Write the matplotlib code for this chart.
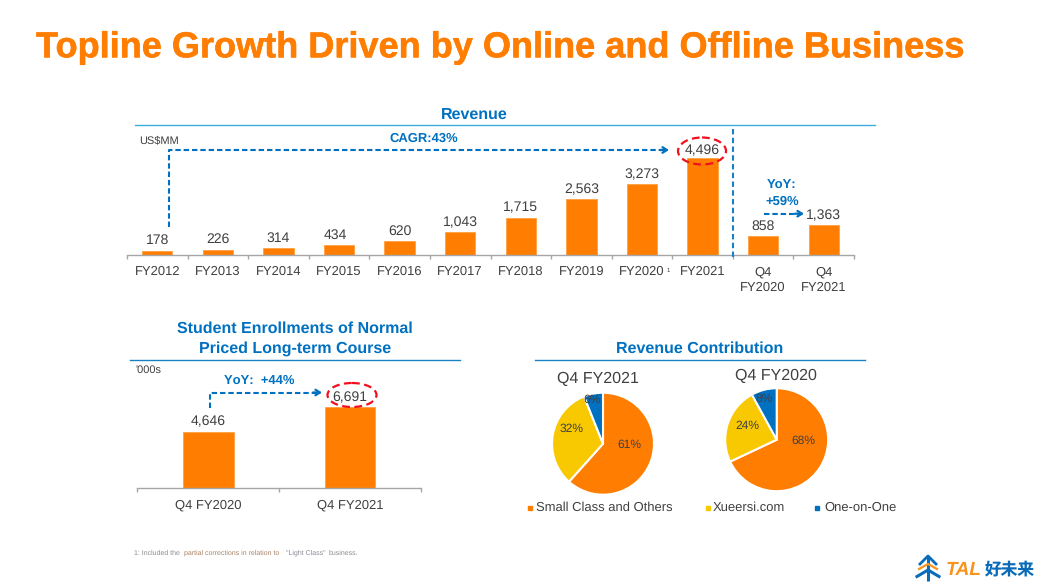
import matplotlib
matplotlib.use('Agg')
import matplotlib.pyplot as plt
import matplotlib.patheffects as pe
from matplotlib.patches import Ellipse

plt.rcParams['font.family'] = ['Liberation Sans', 'Noto Sans CJK SC', 'DejaVu Sans']
plt.rcParams['text.hinting'] = 'no_hinting'
plt.rcParams['text.hinting_factor'] = 1
plt.rcParams['text.kerning_factor'] = 0

W, H = 1053, 588

ORANGE = '#FF7D00'
BLUE = '#0070C0'
YELLOW = '#F8C800'
GREY = '#404040'
AXIS = '#A6A6A6'

# data
rev_labels = ['FY2012', 'FY2013', 'FY2014', 'FY2015', 'FY2016', 'FY2017', 'FY2018',
              'FY2019', 'FY2020', 'FY2021', 'Q4\nFY2020', 'Q4\nFY2021']
rev_values = [178, 226, 314, 434, 620, 1043, 1715, 2563, 3273, 4496, 858, 1363]

enr_labels = ['Q4 FY2020', 'Q4 FY2021']
enr_values = [4646, 6691]

pie_names = ['Small Class and Others', 'Xueersi.com', 'One-on-One']
pie_fy2021 = [61, 32, 6]
pie_fy2020 = [68, 24, 8]


def ax_px(x0, y0, x1, y1):
    # axes from pixel box (y measured from the top)
    return fig.add_axes([x0 / W, 1 - y1 / H, (x1 - x0) / W, (y1 - y0) / H])


def bar_panel(ax, labels, values, width, ymax, fs):
    x = list(range(len(values)))
    ax.bar(x, values, width=width, color=ORANGE, edgecolor='#FFA040', linewidth=0.6)
    ax.set_xlim(-0.5, len(values) - 0.5)
    ax.set_ylim(0, ymax)
    ax.set_yticks([])
    for s in ['top', 'left', 'right']:
        ax.spines[s].set_visible(False)
    ax.spines['bottom'].set_color(AXIS)
    ax.spines['bottom'].set_linewidth(1.0)
    ax.set_xticks(x)
    ax.set_xticklabels(labels, fontsize=fs, color=GREY, linespacing=1.32)
    ax.tick_params(axis='x', which='major', length=0, pad=8.2)
    ax.set_xticks([i - 0.5 for i in range(len(values) + 1)], minor=True)
    ax.tick_params(axis='x', which='minor', length=3, color=AXIS, width=1.0)
    ax.patch.set_alpha(0)


def arrow_head(x0, y0, x1, y1):
    ov.annotate('', xy=(x1, y1), xytext=(x0, y0),
                arrowprops=dict(arrowstyle='->,head_length=0.32,head_width=0.2', color=BLUE,
                                lw=1.6, shrinkA=0, shrinkB=0))


def pie_panel(cx, cy, r, values):
    ax = ax_px(cx - r, cy - r, cx + r, cy + r)
    ax.pie(values, colors=[ORANGE, YELLOW, BLUE], startangle=90, counterclock=False, radius=1,
           wedgeprops=dict(edgecolor='white', linewidth=1.5))
    ax.set_xlim(-1.02, 1.02)
    ax.set_ylim(-1.02, 1.02)


fig = plt.figure(figsize=(W / 100, H / 100), dpi=100, facecolor='white')

# revenue bars
ax1 = ax_px(127, 125, 854, 254.5)
bar_panel(ax1, rev_labels, rev_values, 0.5, 6034, 9.7)
rev_shift = {3: -3}
for i, v in enumerate(rev_values):
    dy = 5.2 if i == 9 else 7.2
    ax1.annotate(f'{v:,}', (i, v), xytext=(rev_shift.get(i, 0), dy), textcoords='offset points',
                 ha='center', va='center', fontsize=9.8, color=GREY)

# enrollment bars
ax2 = ax_px(137.5, 365, 421, 488)
bar_panel(ax2, enr_labels, enr_values, 0.358, 10160, 9.7)
for i, v in enumerate(enr_values):
    ax2.annotate(f'{v:,}', (i, v), xytext=(0, 7.6 if i == 0 else 6.5), textcoords='offset points',
                 ha='center', va='center', fontsize=9.8, color=GREY)

# pies
pie_panel(603, 443.7, 52, pie_fy2021)
pie_panel(776.7, 439.7, 52.5, pie_fy2020)

# overlay in pixel coordinates for the slide furniture
ov = fig.add_axes([0, 0, 1, 1], zorder=10)
ov.set_xlim(0, W)
ov.set_ylim(H, 0)
ov.axis('off')
ov.patch.set_alpha(0)

ov.text(36, 48, 'Topline Growth Driven by Online and Offline Business', fontsize=26, fontweight='bold',
        color=ORANGE, ha='left', va='center',
        path_effects=[pe.withStroke(linewidth=0.4, foreground=ORANGE)])

for txt, x, y in [('Revenue', 474, 114.5), ('Student Enrollments of Normal', 295, 329),
                  ('Priced Long-term Course', 295, 349), ('Revenue Contribution', 700, 349)]:
    ov.text(x, y, txt, fontsize=11.4, fontweight='bold', color=BLUE, ha='center', va='center')

ov.plot([135, 875], [125, 125], color='#3DAEE0', lw=1.0)
ov.plot([130, 460], [359.5, 359.5], color='#1A80C4', lw=1.0)
ov.plot([535, 865], [359.5, 359.5], color='#1A80C4', lw=1.0)

ov.text(139.5, 140, 'US$MM', fontsize=7.6, color=GREY, ha='left', va='center')
ov.text(135, 370, "'000s", fontsize=7.6, color=GREY, ha='left', va='center')
ov.text(668, 270.5, '1', fontsize=4.5, color=GREY, ha='center', va='center')

# CAGR arrow
ov.plot([169, 169, 664], [227, 150, 150], color=BLUE, lw=1.5, ls=(0, (2.6, 1.4)))
arrow_head(660, 150, 669, 150)
ov.text(424, 138.5, 'CAGR:43%', fontsize=9.6, fontweight='bold', color=BLUE, ha='center', va='center')

# divider
ov.plot([733, 733], [129, 258], color='#1A80C4', lw=1.5, ls=(0, (2.6, 1.6)))

# quarterly yoy
ov.plot([764, 799], [213.7, 213.7], color=BLUE, lw=1.5, ls=(0, (2.6, 1.4)))
arrow_head(795, 213.7, 804, 213.7)
ov.text(782, 186, 'YoY:', fontsize=9.6, fontweight='bold', color=BLUE, ha='center', va='center')
ov.text(782, 202, '+59%', fontsize=9.6, fontweight='bold', color=BLUE, ha='center', va='center')

# enrollment yoy
ov.plot([210, 210, 317], [408, 392.5, 392.5], color=BLUE, lw=1.5, ls=(0, (2.6, 1.4)))
arrow_head(313, 392.5, 322, 392.5)
ov.text(259, 381, 'YoY:  +44%', fontsize=9.6, fontweight='bold', color=BLUE, ha='center', va='center')

# red circles
for cx, cy, w, h in [(702, 151, 48, 27), (352, 395, 49, 24)]:
    ov.add_patch(Ellipse((cx, cy), w, h, fill=False, edgecolor='#F0101E', lw=1.6, ls=(0, (3.5, 2))))

# pie titles and percent labels
ov.text(598, 379, 'Q4 FY2021', fontsize=11.3, color=GREY, ha='center', va='center')
ov.text(776, 376, 'Q4 FY2020', fontsize=11.3, color=GREY, ha='center', va='center')
for v, x, y in zip(pie_fy2021, [629, 572, 592], [445, 429, 400]):
    ov.text(x, y, f'{v}%', fontsize=8.4, color=GREY, ha='center', va='center')
for v, x, y in zip(pie_fy2020, [803, 747, 764], [441, 426, 399]):
    ov.text(x, y, f'{v}%', fontsize=8.4, color=GREY, ha='center', va='center')

# legend
for name, c, mx, tx in zip(pie_names, [ORANGE, YELLOW, BLUE], [529.5, 707.5, 817], [536, 713, 824]):
    ov.plot([mx], [507.5], marker='s', ms=3, color=c, ls='none')
    ov.text(tx, 507.5, name, fontsize=9.6, color=GREY, ha='left', va='center')

# footnote
for txt, x, c in [('1: Included the', 134, '#8C8C8C'), ('partial corrections in relation to', 184, '#A88468'),
                  ('"Light Class"', 286, '#8C8C9A'), ('business.', 329, '#8C8C8C')]:
    ov.text(x, 553, txt, fontsize=5.25, color=c, ha='left', va='center')

# logo
LOGO_BLUE = '#0A6CB8'
ov.plot([928, 928], [556, 581], color=LOGO_BLUE, lw=2.2, solid_capstyle='butt')
ov.plot([920, 928, 936], [564, 556, 564], color=LOGO_BLUE, lw=2.0)
ov.plot([919, 928, 937], [569, 564, 569], color='#F7941D', lw=1.6)
ov.plot([917, 928, 939], [576.5, 570, 576.5], color=LOGO_BLUE, lw=2.2)
ov.text(946, 570, 'TAL', fontsize=13.6, fontweight='bold', style='italic', color='#F7941D', ha='left', va='center')
ov.text(985, 570, '好未来', fontsize=12, fontweight='bold', color=LOGO_BLUE, ha='left', va='center')

fig.savefig('out.png', dpi=100)
